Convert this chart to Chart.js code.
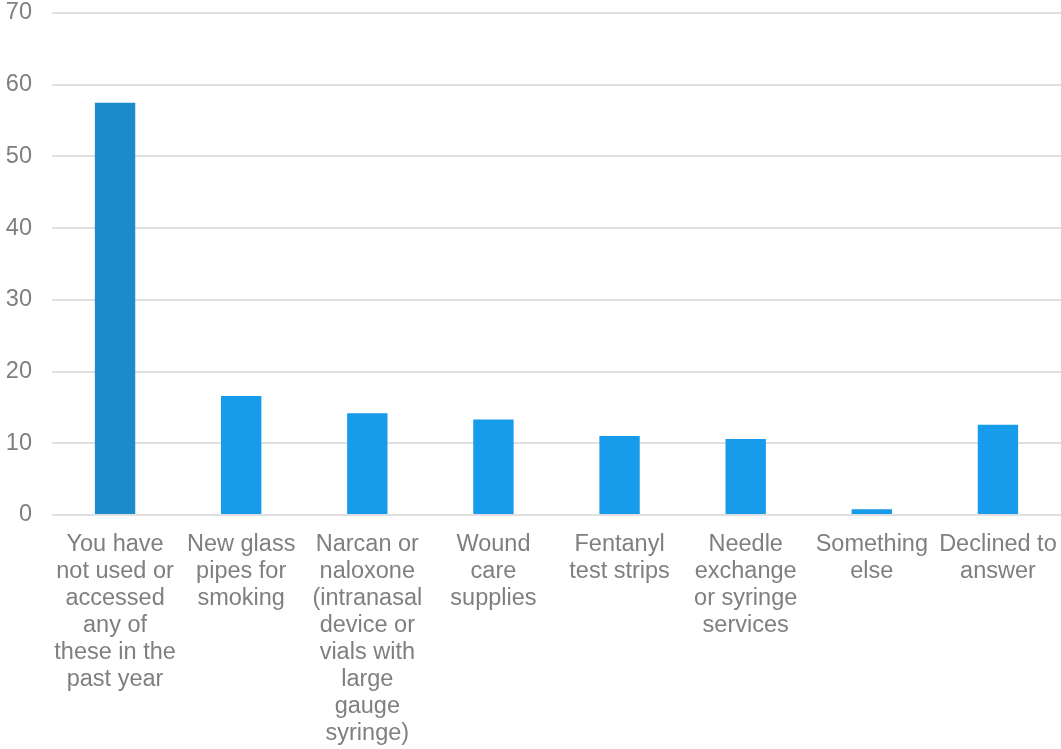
<!DOCTYPE html>
<html>
<head>
<meta charset="utf-8">
<script src="https://cdn.jsdelivr.net/npm/chart.js@4/dist/chart.umd.min.js"></script>
<style>
  html, body { margin: 0; padding: 0; background: #fff; }
  #wrap { width: 1061px; height: 749px; position: relative; }
</style>
</head>
<body>
<div id="wrap"><canvas id="barChart"></canvas></div>
<script>
/* ─── DATA ─────────────────────────────────────────── */
const categories = [
  ['You have', 'not used or', 'accessed', 'any of', 'these in the', 'past year'],
  ['New glass', 'pipes for', 'smoking'],
  ['Narcan or', 'naloxone', '(intranasal', 'device or', 'vials with', 'large', 'gauge', 'syringe)'],
  ['Wound', 'care', 'supplies'],
  ['Fentanyl', 'test strips'],
  ['Needle', 'exchange', 'or syringe', 'services'],
  ['Something', 'else'],
  ['Declined to', 'answer']
];
const values = [57.5, 16.6, 14.2, 13.3, 11.0, 10.6, 0.8, 12.6];
const yTicks = [0, 10, 20, 30, 40, 50, 60, 70];

const firstColor = '#1B8BCB';
const barColor   = '#179BEB';
const textColor  = '#7F7F7F';
const gridColor  = '#E0E0E0';

Chart.defaults.font.family = "'Liberation Sans', Arial, sans-serif";
Chart.defaults.font.size = 23.5;
Chart.defaults.color = textColor;

/* ─── CHART ─────────────────────────────────────────── */
new Chart(document.getElementById('barChart'), {
  type: 'bar',
  data: {
    labels: categories,
    datasets: [{
      data: values,
      backgroundColor: values.map((_, i) => i === 0 ? firstColor : barColor),
      barPercentage: 0.32,
      categoryPercentage: 1.0
    }]
  },
  options: {
    responsive: true,
    maintainAspectRatio: false,
    animation: false,
    layout: { padding: { top: 13, right: 0, left: 0, bottom: 0 } },
    plugins: { legend: { display: false }, tooltip: { enabled: false } },
    scales: {
      x: {
        grid: { display: false, drawTicks: false },
        border: { display: false },
        ticks: {
          color: textColor,
          font: { size: 23.5, lineHeight: 1.15 },
          padding: 16,
          maxRotation: 0,
          autoSkip: false
        },
        afterFit: (axis) => {
          axis.height = 234;
          axis.paddingLeft = 0;
          axis.paddingRight = 0;
        }
      },
      y: {
        min: 0,
        max: 70,
        afterBuildTicks: (axis) => { axis.ticks = yTicks.map(v => ({ value: v })); },
        grid: { color: gridColor, lineWidth: 2, drawTicks: false },
        border: { display: false },
        ticks: { color: textColor, font: { size: 23.5 }, padding: 20 },
        afterFit: (axis) => {
          axis.width = 52;
          axis.paddingTop = 0;
          axis.paddingBottom = 0;
        }
      }
    }
  }
});
</script>
</body>
</html>
